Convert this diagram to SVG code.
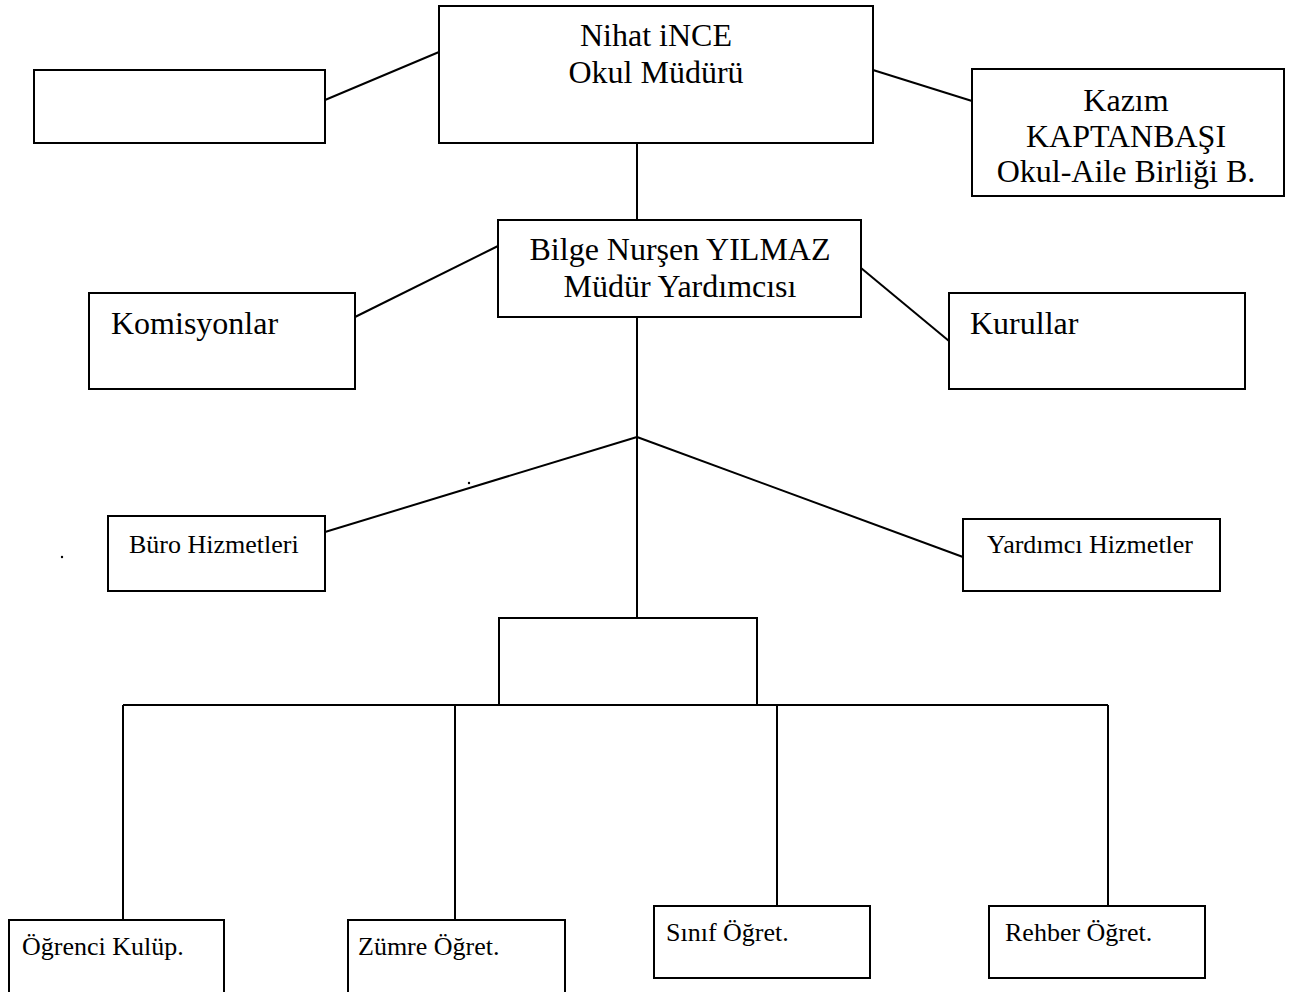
<svg xmlns="http://www.w3.org/2000/svg" width="1293" height="992" viewBox="0 0 1293 992">
<style>
.box{fill:#fff;stroke:#000;stroke-width:2}
.ln{stroke:#000;stroke-width:2;fill:none}
.t{font-family:"Liberation Serif","Times New Roman",serif;fill:#000}
.big{font-size:32px}
.sm{font-size:26px}
.mid{text-anchor:middle}
</style>
<rect width="1293" height="992" fill="#fff"/>
<g id="connectors">
<line class="ln" x1="325" y1="100" x2="439" y2="52"/>
<line class="ln" x1="873" y1="70" x2="972" y2="101"/>
<line class="ln" x1="637" y1="143" x2="637" y2="220"/>
<line class="ln" x1="498" y1="246" x2="355" y2="317"/>
<line class="ln" x1="861" y1="268" x2="949" y2="341"/>
<line class="ln" x1="637" y1="317" x2="637" y2="618"/>
<line class="ln" x1="637" y1="437" x2="325" y2="532"/>
<line class="ln" x1="637" y1="437" x2="963" y2="557"/>
<line class="ln" x1="123" y1="705" x2="1108" y2="705"/>
<line class="ln" x1="123" y1="705" x2="123" y2="920"/>
<line class="ln" x1="455" y1="705" x2="455" y2="920"/>
<line class="ln" x1="777" y1="705" x2="777" y2="906"/>
<line class="ln" x1="1108" y1="705" x2="1108" y2="906"/>
</g>
<g id="blank-top"><rect class="box" x="34" y="70" width="291" height="73"/></g>
<g id="mudur"><rect class="box" x="439" y="6" width="434" height="137"/>
<text class="t big mid" x="656" y="46">Nihat iNCE</text>
<text class="t big mid" x="656" y="83">Okul Müdürü</text></g>
<g id="veli"><rect class="box" x="972" y="69" width="312" height="127"/>
<text class="t big mid" x="1126" y="111">Kazım</text>
<text class="t big mid" x="1126" y="147">KAPTANBAŞI</text>
<text class="t big mid" x="1126" y="182">Okul-Aile Birliği B.</text></g>
<g id="yardimci"><rect class="box" x="498" y="220" width="363" height="97"/>
<text class="t big mid" x="680" y="260">Bilge Nurşen YILMAZ</text>
<text class="t big mid" x="680" y="297">Müdür Yardımcısı</text></g>
<g id="komisyonlar"><rect class="box" x="89" y="293" width="266" height="96"/>
<text class="t big" x="111" y="334">Komisyonlar</text></g>
<g id="kurullar"><rect class="box" x="949" y="293" width="296" height="96"/>
<text class="t big" x="970" y="334">Kurullar</text></g>
<g id="buro"><rect class="box" x="108" y="516" width="217" height="75"/>
<text class="t sm" x="129" y="553">Büro Hizmetleri</text></g>
<g id="yardimci-hizmetler"><rect class="box" x="963" y="519" width="257" height="72"/>
<text class="t sm" x="987" y="553">Yardımcı Hizmetler</text></g>
<g id="blank-mid"><rect class="box" x="499" y="618" width="258" height="87"/></g>
<g id="ogrenci"><rect class="box" x="9" y="920" width="215" height="74"/>
<text class="t sm" x="22" y="955">Öğrenci Kulüp.</text></g>
<g id="zumre"><rect class="box" x="348" y="920" width="217" height="74"/>
<text class="t sm" x="358" y="955">Zümre Öğret.</text></g>
<g id="sinif"><rect class="box" x="654" y="906" width="216" height="72"/>
<text class="t sm" x="666" y="941">Sınıf Öğret.</text></g>
<g id="rehber"><rect class="box" x="989" y="906" width="216" height="72"/>
<text class="t sm" x="1005" y="941">Rehber Öğret.</text></g>
<g id="dots"><circle cx="62" cy="557" r="1.2" fill="#000"/><circle cx="469" cy="483" r="1.2" fill="#000"/></g>
</svg>
